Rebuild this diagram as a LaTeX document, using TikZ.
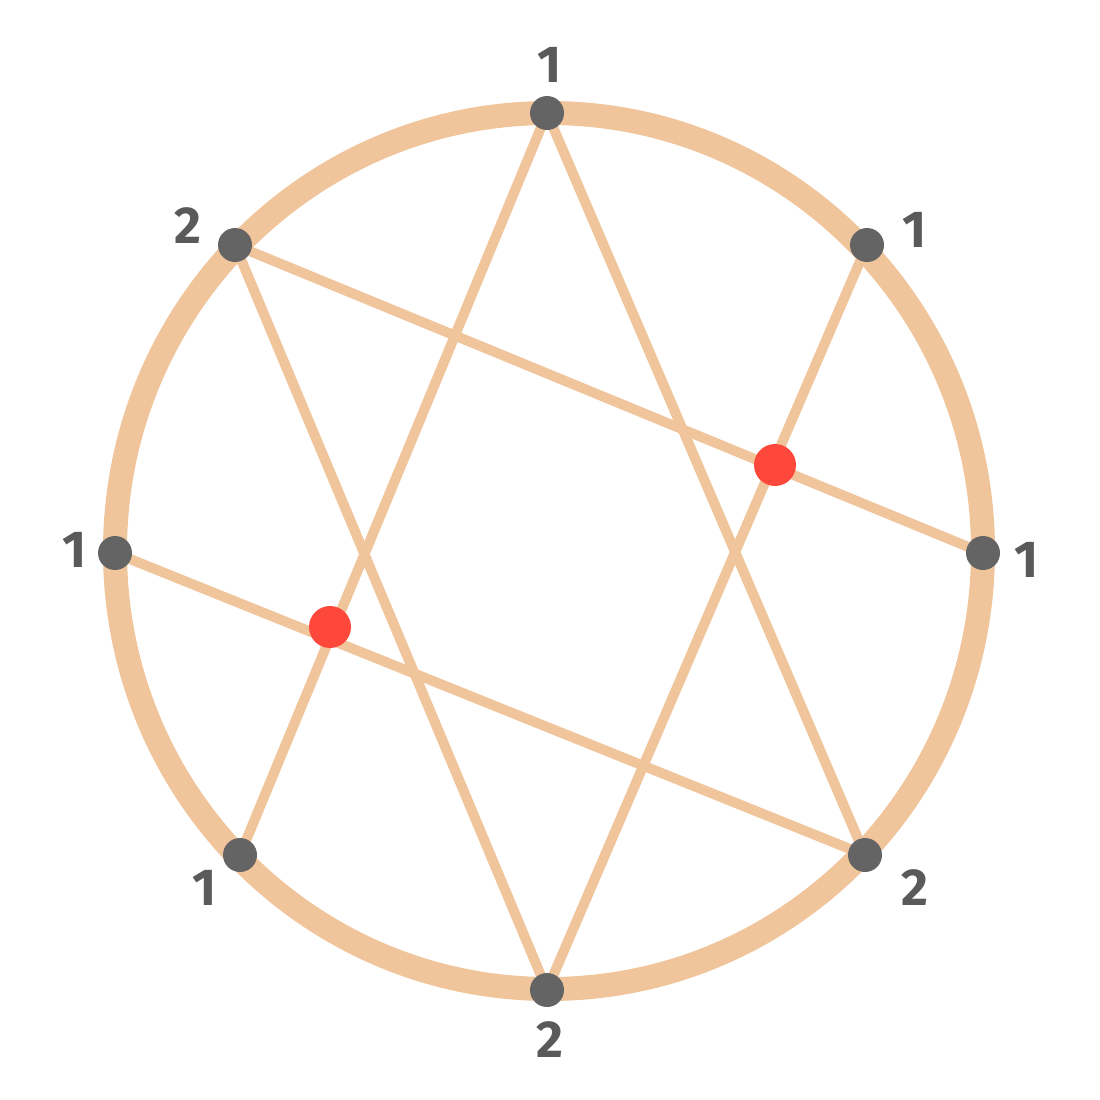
\documentclass[tikz,border=0pt]{standalone}
\usepackage{fontspec}
\setmainfont{Fira Sans}
\definecolor{peach}{HTML}{F0C59B}
\definecolor{dotgray}{HTML}{646464}
\definecolor{dotred}{HTML}{FF483C}
\definecolor{labgray}{HTML}{5A5A5A}
\begin{document}
\begin{tikzpicture}[x=1pt,y=-1pt,
  ring/.style={draw=peach,line width=24pt},
  chord/.style={draw=peach,line width=10pt,line cap=round},
  vtx/.style={circle,fill=dotgray,minimum size=34pt,inner sep=0pt},
  rvtx/.style={circle,fill=dotred,minimum size=42pt,inner sep=0pt},
  lab/.style={text=labgray,font=\fontsize{52}{52}\selectfont\bfseries,inner sep=0pt}]
\useasboundingbox (0,0) rectangle (1100,1100);
\draw[ring] (549,551) ellipse [x radius=434, y radius=438];
\coordinate (pT) at (547,113);
\coordinate (pTR) at (867,245);
\coordinate (pR) at (983,553);
\coordinate (pBR) at (865,855);
\coordinate (pB) at (547,990);
\coordinate (pBL) at (240,855);
\coordinate (pL) at (115,553);
\coordinate (pTL) at (235,245);
\draw[chord] (pT) -- (pBL);
\draw[chord] (pT) -- (pBR);
\draw[chord] (pTL) -- (pR);
\draw[chord] (pTL) -- (pB);
\draw[chord] (pTR) -- (pB);
\draw[chord] (pL) -- (pBR);
\node[vtx] (nT) at (pT) {};
\node[vtx] (nTR) at (pTR) {};
\node[vtx] (nR) at (pR) {};
\node[vtx] (nBR) at (pBR) {};
\node[vtx] (nB) at (pB) {};
\node[vtx] (nBL) at (pBL) {};
\node[vtx] (nL) at (pL) {};
\node[vtx] (nTL) at (pTL) {};
\node[rvtx] (r1) at (775,465) {};
\node[rvtx] (r2) at (330,627) {};
\node[lab] (lT) at (550,65) {1};
\node[lab] (lTR) at (915,230) {1};
\node[lab] (lR) at (1027,560) {1};
\node[lab] (lBR) at (915,888) {2};
\node[lab] (lB) at (550,1040) {2};
\node[lab] (lBL) at (205,888) {1};
\node[lab] (lL) at (75,550) {1};
\node[lab] (lTL) at (188,226) {2};
\end{tikzpicture}
\end{document}
